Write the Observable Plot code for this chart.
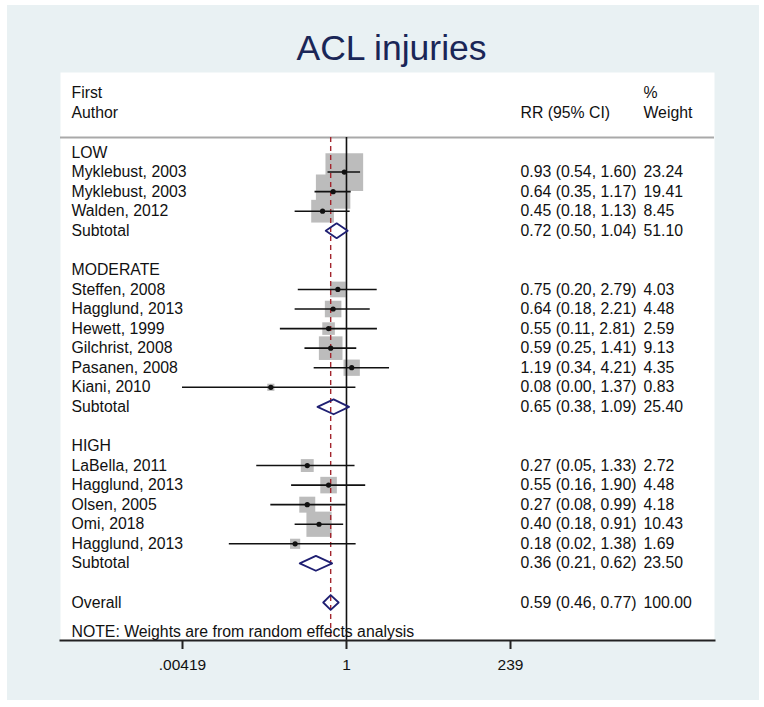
<!DOCTYPE html>
<html>
<head>
<meta charset="utf-8">
<script src="https://cdn.jsdelivr.net/npm/d3@7"></script>
<script src="https://cdn.jsdelivr.net/npm/@observablehq/plot@0.6"></script>
<style>
  html, body { margin: 0; padding: 0; background: #ffffff; }
  #wrap { position: relative; width: 764px; height: 707px; overflow: hidden; }
  #bg { position: absolute; left: 7px; top: 5px; width: 752px; height: 695px; background: #e9f1f3; }
  #chart { position: absolute; left: 0; top: 0; }
</style>
</head>
<body>
<div id="wrap"><div id="bg"></div><div id="chart"></div></div>
<script>
// ---- data ----
const titleText = "ACL injuries";
const groups = ["LOW", "MODERATE", "HIGH"];
const authors = ["Myklebust, 2003", "Myklebust, 2003", "Walden, 2012",
  "Steffen, 2008", "Hagglund, 2013", "Hewett, 1999", "Gilchrist, 2008", "Pasanen, 2008", "Kiani, 2010",
  "LaBella, 2011", "Hagglund, 2013", "Olsen, 2005", "Omi, 2018", "Hagglund, 2013"];
const groupOf = [0, 0, 0, 1, 1, 1, 1, 1, 1, 2, 2, 2, 2, 2];
const rr     = [0.93, 0.64, 0.45, 0.75, 0.64, 0.55, 0.59, 1.19, 0.08, 0.27, 0.55, 0.27, 0.40, 0.18];
const ciLow  = [0.54, 0.35, 0.18, 0.20, 0.18, 0.11, 0.25, 0.34, 0.00419, 0.05, 0.16, 0.08, 0.18, 0.02];
const ciHigh = [1.60, 1.17, 1.13, 2.79, 2.21, 2.81, 1.41, 4.21, 1.37, 1.33, 1.90, 0.99, 0.91, 1.38];
const weight = [23.24, 19.41, 8.45, 4.03, 4.48, 2.59, 9.13, 4.35, 0.83, 2.72, 4.48, 4.18, 10.43, 1.69];
const subRR     = [0.72, 0.65, 0.36];
const subLow    = [0.50, 0.38, 0.21];
const subHigh   = [1.04, 1.09, 0.62];
const subWeight = [51.10, 25.40, 23.50];
const overallRR = 0.59, overallLow = 0.46, overallHigh = 0.77, overallWeight = 100.00;
const tickValues = [0.00419, 1, 239];
const tickLabels = [".00419", "1", "239"];
const noteText = "NOTE: Weights are from random effects analysis";

// ---- layout rows ----
const fmt = (e, l, h) => `${e.toFixed(2)} (${l.toFixed(2)}, ${h.toFixed(2)})`;
const studies = [], labels = [], summaries = [];
let r = 0;
groups.forEach((g, gi) => {
  labels.push({row: r, text: g}); r++;
  authors.forEach((a, i) => {
    if (groupOf[i] !== gi) return;
    studies.push({row: r, author: a, rr: rr[i], lo: ciLow[i], hi: ciHigh[i], w: weight[i],
      ci: fmt(rr[i], ciLow[i], ciHigh[i]), wt: weight[i].toFixed(2)});
    r++;
  });
  summaries.push({row: r, author: "Subtotal", rr: subRR[gi], lo: subLow[gi], hi: subHigh[gi],
    ci: fmt(subRR[gi], subLow[gi], subHigh[gi]), wt: subWeight[gi].toFixed(2), key: g});
  r += 2;
});
summaries.push({row: r, author: "Overall", rr: overallRR, lo: overallLow, hi: overallHigh,
  ci: fmt(overallRR, overallLow, overallHigh), wt: overallWeight.toFixed(2), key: "overall"});
const noteRow = r + 1.5;
const textRows = [...labels.map(d => ({row: d.row, author: d.text, ci: "", wt: ""})), ...studies, ...summaries];

const H = 0.38;
const diamonds = summaries.flatMap(s => [
  {k: s.key, x: s.lo, y: s.row}, {k: s.key, x: s.rr, y: s.row - H},
  {k: s.key, x: s.hi, y: s.row}, {k: s.key, x: s.rr, y: s.row + H},
  {k: s.key, x: s.lo, y: s.row}
]);

const rowStep = 19.565, row0 = 152, panelTop = 72, panelBottom = 640;
const yMin = -(row0 - panelTop) / rowStep, yMax = (panelBottom - row0) / rowStep;
const headerLine = -0.77;
const header = [
  {row: -3.02, a: "First", c: "", w: "%"},
  {row: -2.04, a: "Author", c: "RR (95% CI)", w: "Weight"}
];
const tickEnd = yMax + 9 / rowStep, tickLabelRow = yMax + 25 / rowStep;

const font = "'Liberation Sans', Arial, Helvetica, sans-serif";
const fs = 15.8;
const tickText = d => tickLabels[tickValues.indexOf(d)];

const chart = Plot.plot({
  width: 764, height: 707,
  marginLeft: 60, marginRight: 50, marginTop: panelTop, marginBottom: 707 - panelBottom,
  style: {fontFamily: font, fontSize: fs + "px", background: "transparent", color: "black"},
  x: {type: "log", domain: [7.13e-5, 2.17e5], label: null, axis: null},
  y: {domain: [yMin, yMax], range: [panelTop, panelBottom], axis: null},
  r: {type: "sqrt", domain: [0, 100], range: [0, 44.1]},
  marks: [
    Plot.frame({fill: "white", stroke: "none"}),
    Plot.ruleY([headerLine], {stroke: "#a9a9a9", strokeWidth: 2}),
    Plot.dot(studies, {x: "rr", y: "row", r: "w", symbol: "square", fill: "#bcbcbc", stroke: "none"}),
    Plot.ruleX([1], {y1: () => headerLine, y2: () => yMax, stroke: "#111", strokeWidth: 1.6}),
    Plot.ruleX([overallRR], {y1: () => headerLine, y2: () => yMax, stroke: "#a3262e", strokeWidth: 1.4, strokeDasharray: "5,4"}),
    Plot.ruleY(studies, {y: "row", x1: "lo", x2: "hi", stroke: "#111", strokeWidth: 1.6}),
    Plot.dot(studies, {x: "rr", y: "row", r: 2.6, fill: "#111", stroke: "none"}),
    Plot.line(diamonds, {x: "x", y: "y", z: "k", stroke: "#1f1f72", strokeWidth: 1.8, fill: "none"}),
    Plot.text(textRows, {y: "row", text: "author", frameAnchor: "left", dx: 11, textAnchor: "start", fontSize: fs, fill: "#111"}),
    Plot.text(textRows, {y: "row", text: "ci", frameAnchor: "left", dx: 460, textAnchor: "start", fontSize: fs, fill: "#111"}),
    Plot.text(textRows, {y: "row", text: "wt", frameAnchor: "left", dx: 583, textAnchor: "start", fontSize: fs, fill: "#111"}),
    Plot.text(header, {y: "row", text: "a", frameAnchor: "left", dx: 11, textAnchor: "start", fontSize: fs, fill: "#111"}),
    Plot.text(header, {y: "row", text: "c", frameAnchor: "left", dx: 460, textAnchor: "start", fontSize: fs, fill: "#111"}),
    Plot.text(header, {y: "row", text: "w", frameAnchor: "left", dx: 583, textAnchor: "start", fontSize: fs, fill: "#111"}),
    Plot.text([noteText], {y: () => noteRow, text: d => d, frameAnchor: "left", dx: 11, textAnchor: "start", fontSize: fs, fill: "#111"}),
    Plot.text([titleText], {text: d => d, frameAnchor: "top", dx: 4, dy: -24, fontSize: 35.5, fill: "#1a2657", lineAnchor: "middle"}),
    Plot.frame({anchor: "bottom", stroke: "#222", strokeWidth: 2}),
    Plot.ruleX(tickValues, {x: d => d, y1: () => yMax, y2: () => tickEnd, stroke: "#222", strokeWidth: 2}),
    Plot.text(tickValues, {x: d => d, y: () => tickLabelRow, text: tickText, fontSize: 15.5, fill: "#111"})
  ]
});
document.getElementById("chart").appendChild(chart);
</script>
</body>
</html>
